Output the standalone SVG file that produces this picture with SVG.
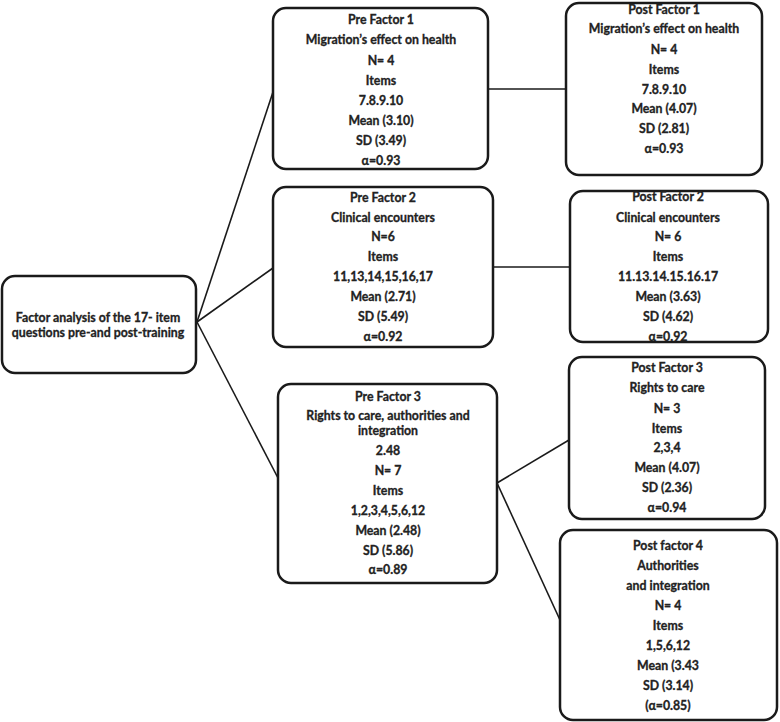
<svg xmlns="http://www.w3.org/2000/svg" width="780" height="722" viewBox="0 0 780 722">
<style>
.box{fill:#fff;stroke:#1a1a1a;stroke-width:2.5}
.con line{stroke:#1a1a1a;stroke-width:1.6}
text{font-family:Lato,"Liberation Sans",sans-serif;font-weight:bold;font-size:12.3px;fill:#222;stroke:#222;stroke-width:0.3;text-anchor:middle}
</style>
<rect width="780" height="722" fill="#fff"/>
<g id="connectors" class="con">
<line x1="197" y1="322" x2="273" y2="92"/>
<line x1="197" y1="322" x2="273" y2="268"/>
<line x1="197" y1="322" x2="278" y2="478"/>
<line x1="487" y1="89" x2="566" y2="89"/>
<line x1="493" y1="267" x2="570" y2="267"/>
<line x1="497" y1="483" x2="569" y2="440"/>
<line x1="497" y1="483" x2="560" y2="620"/>
</g>
<g id="root">
<rect class="box" x="2" y="276" width="194" height="97" rx="13"/>
<text x="98" y="322">Factor analysis of the 17- item</text>
<text x="98" y="337">questions pre-and post-training</text>
</g>
<g id="pre1">
<rect class="box" x="273" y="8" width="215" height="161" rx="13"/>
<text x="381" y="24">Pre Factor 1</text>
<text x="381" y="44">Migration’s effect on health</text>
<text x="381" y="65">N= 4</text>
<text x="381" y="85">Items</text>
<text x="381" y="105">7.8.9.10</text>
<text x="381" y="125">Mean (3.10)</text>
<text x="381" y="145">SD (3.49)</text>
<text x="381" y="165">α=0.93</text>
</g>
<g id="post1">
<rect class="box" x="566" y="3" width="196" height="172" rx="13"/>
<text x="664" y="14">Post Factor 1</text>
<text x="664" y="33">Migration’s effect on health</text>
<text x="664" y="54">N= 4</text>
<text x="664" y="74">Items</text>
<text x="664" y="94">7.8.9.10</text>
<text x="664" y="113">Mean (4.07)</text>
<text x="664" y="133">SD (2.81)</text>
<text x="664" y="153">α=0.93</text>
</g>
<g id="pre2">
<rect class="box" x="273" y="187" width="220" height="160" rx="13"/>
<text x="383" y="202">Pre Factor 2</text>
<text x="383" y="222">Clinical encounters</text>
<text x="383" y="241">N=6</text>
<text x="383" y="261">Items</text>
<text x="383" y="281">11,13,14,15,16,17</text>
<text x="383" y="301">Mean (2.71)</text>
<text x="383" y="321">SD (5.49)</text>
<text x="383" y="341">α=0.92</text>
</g>
<g id="post2">
<rect class="box" x="570" y="191" width="198" height="151" rx="13"/>
<text x="668" y="201">Post Factor 2</text>
<text x="668" y="222">Clinical encounters</text>
<text x="668" y="241">N= 6</text>
<text x="668" y="261">Items</text>
<text x="668" y="281">11.13.14.15.16.17</text>
<text x="668" y="301">Mean (3.63)</text>
<text x="668" y="321">SD (4.62)</text>
<text x="668" y="341">α=0.92</text>
</g>
<g id="pre3">
<rect class="box" x="278" y="384" width="219" height="199" rx="13"/>
<text x="388" y="401">Pre Factor 3</text>
<text x="388" y="420">Rights to care, authorities and</text>
<text x="388" y="435">integration</text>
<text x="388" y="455">2.48</text>
<text x="388" y="475">N= 7</text>
<text x="388" y="495">Items</text>
<text x="388" y="515">1,2,3,4,5,6,12</text>
<text x="388" y="535">Mean (2.48)</text>
<text x="388" y="555">SD (5.86)</text>
<text x="388" y="574">α=0.89</text>
</g>
<g id="post3">
<rect class="box" x="569" y="357" width="196" height="162" rx="13"/>
<text x="667" y="372">Post Factor 3</text>
<text x="667" y="392">Rights to care</text>
<text x="667" y="413">N= 3</text>
<text x="667" y="433">Items</text>
<text x="667" y="452">2,3,4</text>
<text x="667" y="472">Mean (4.07)</text>
<text x="667" y="492">SD (2.36)</text>
<text x="667" y="512">α=0.94</text>
</g>
<g id="post4">
<rect class="box" x="560" y="530" width="217" height="190" rx="13"/>
<text x="668" y="550">Post factor 4</text>
<text x="668" y="570">Authorities</text>
<text x="668" y="590">and integration</text>
<text x="668" y="610">N= 4</text>
<text x="668" y="630">Items</text>
<text x="668" y="650">1,5,6,12</text>
<text x="668" y="670">Mean (3.43</text>
<text x="668" y="690">SD (3.14)</text>
<text x="668" y="710">(α=0.85)</text>
</g>
</svg>
